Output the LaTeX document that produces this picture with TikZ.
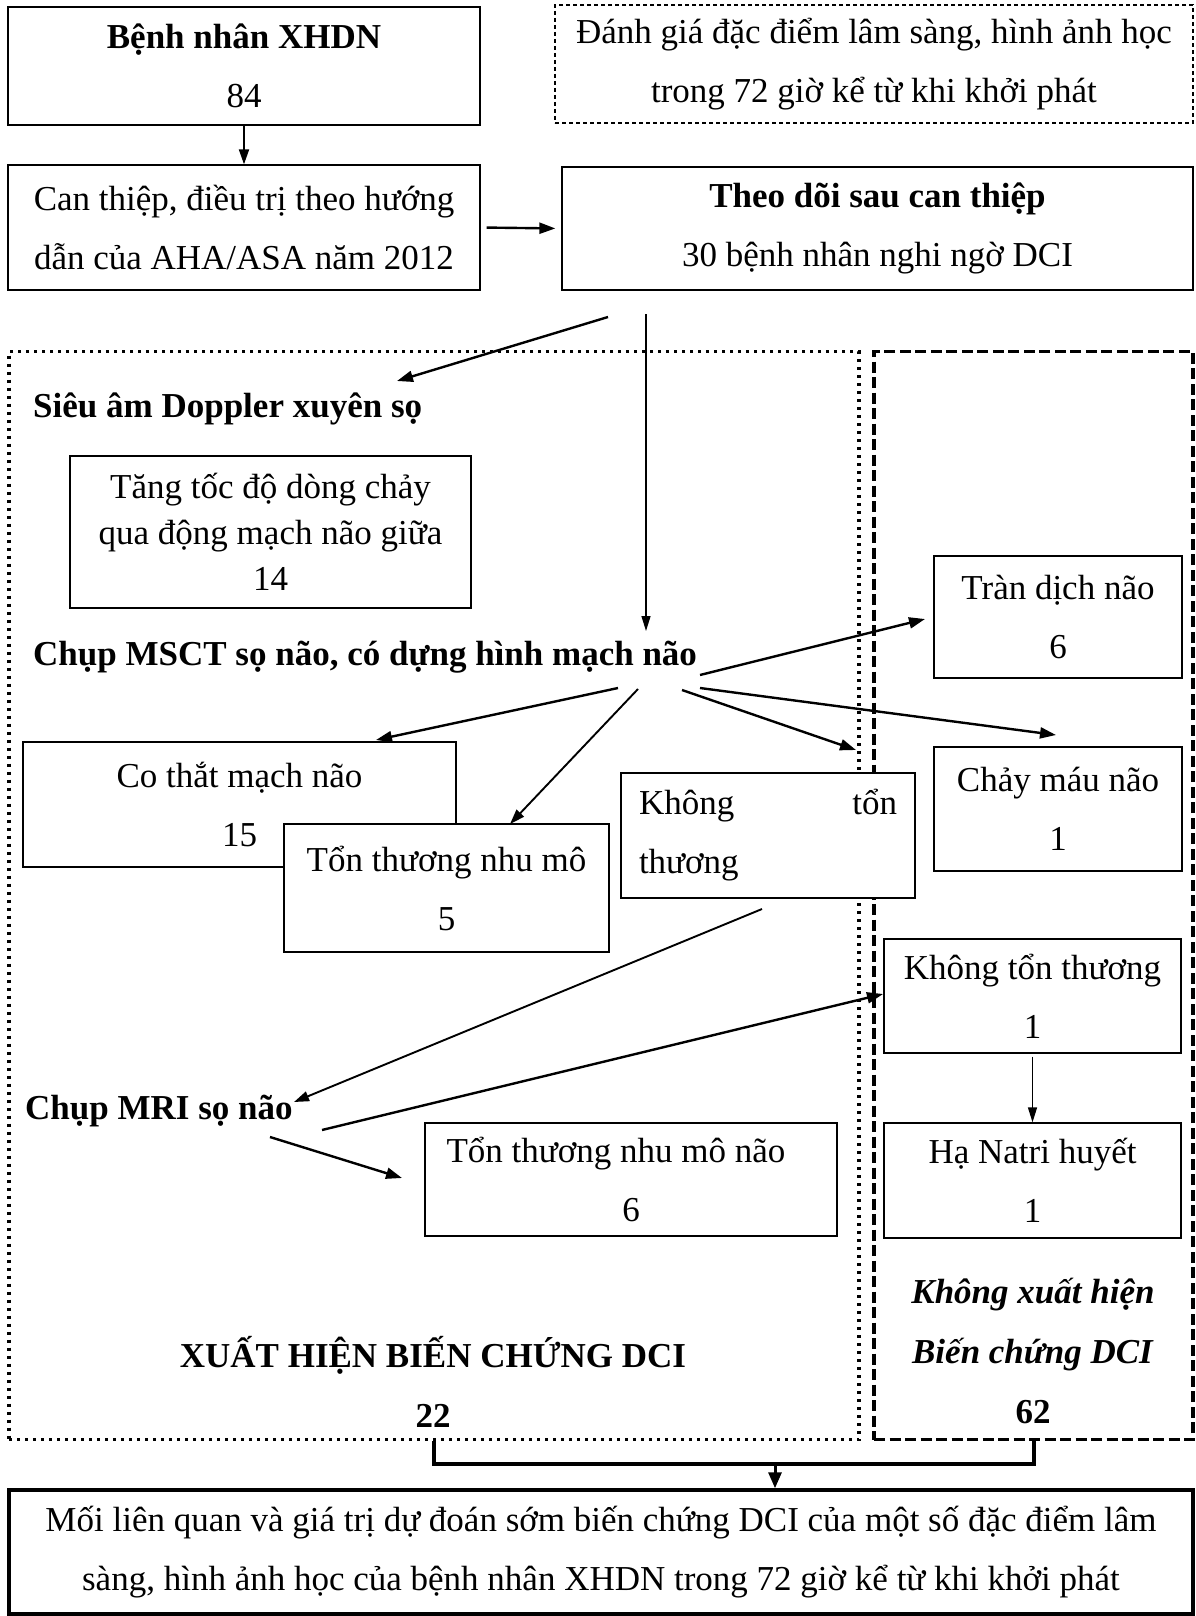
\documentclass[tikz,border=0pt]{standalone}
\usepackage{fontspec}
\setmainfont{Liberation Serif}
\usetikzlibrary{arrows.meta,calc}
\begin{document}
\begin{tikzpicture}[x=1pt,y=-1pt,
  bx/.style={draw,line width=1.3pt,fill=white,align=center,inner sep=0pt,font=\fontsize{35}{59}\selectfont},
  lbl/.style={anchor=west,inner sep=0pt,font=\fontsize{35}{40}\selectfont\bfseries},
  plain/.style={align=center,inner sep=0pt,font=\fontsize{35}{60}\selectfont\bfseries},
  big arrow/.style={line width=2.4pt,-{Triangle[length=16pt,width=11pt]}},
  mid arrow/.style={line width=1.9pt,-{Triangle[length=15pt,width=10pt]}},
  small arrow/.style={line width=1.4pt,-{Triangle[length=15pt,width=9pt]}},
  dotgrp/.style={draw,line width=3.2pt,dash pattern=on 3pt off 5pt,inner sep=0pt},
  dashgrp/.style={draw,line width=3.3pt,dash pattern=on 11pt off 4.5pt,inner sep=0pt},
]
\useasboundingbox (0,0) rectangle (1195,1616);

% group frames
\node[dotgrp,minimum width=850pt,minimum height=1088pt] (leftgrp) at (434,895.5) {};
\node[dashgrp,minimum width=319pt,minimum height=1088pt] (rightgrp) at (1033.5,895.5) {};

% top boxes
\node[bx,minimum width=472pt,minimum height=118pt] (b1) at (244,66) {\textbf{Bệnh nhân XHDN}\\84};
\node[bx,dash pattern=on 4pt off 3pt,minimum width=638pt,minimum height=118pt] (eval) at (874,64) {Đánh giá đặc điểm lâm sàng, hình ảnh học\\trong 72 giờ kể từ khi khởi phát};
\node[bx,minimum width=472pt,minimum height=125pt] (b2) at (244,227.5) {Can thiệp, điều trị theo hướng\\dẫn của AHA/ASA năm 2012};
\node[bx,minimum width=631pt,minimum height=123pt] (b3) at (877.5,228.5) {\textbf{Theo dõi sau can thiệp}\\30 bệnh nhân nghi ngờ DCI};

% labels
\node[lbl] (sieu) at (33,409) {Siêu âm Doppler xuyên sọ};
\node[bx,font=\fontsize{35}{46}\selectfont,minimum width=401pt,minimum height=152pt] (tang) at (270.5,532) {Tăng tốc độ dòng chảy\\qua động mạch não giữa\\14};
\node[lbl] (msct) at (33,657) {Chụp MSCT sọ não, có dựng hình mạch não};

% MSCT results
\node[bx,minimum width=248pt,minimum height=122pt] (tran) at (1058,617) {Tràn dịch não\\6};
\node[bx,minimum width=248pt,minimum height=124pt] (chay) at (1058,809) {Chảy máu não\\1};
\node[bx,minimum width=433pt,minimum height=125pt] (cothat) at (239.5,804.5) {Co thắt mạch não\\15};
\node[bx,minimum width=325pt,minimum height=128pt] (tonthuong) at (446.5,888) {Tổn thương nhu mô\\5};
\node[bx,minimum width=294pt,minimum height=125pt] (khong1) at (768,835.5) {\parbox{258pt}{\fontsize{35}{59}\selectfont Không\hfill tổn\\thương}};

% MRI
\node[lbl] (mri) at (25,1111) {Chụp MRI sọ não};
\node[bx,minimum width=412pt,minimum height=113pt] (tonnao) at (631,1179.5) {Tổn thương nhu mô não\hspace*{30pt}\\6};
\node[bx,minimum width=297pt,minimum height=114pt] (khong2) at (1032.5,996) {Không tổn thương\\1};
\node[bx,minimum width=297pt,minimum height=115pt] (hana) at (1032.5,1180.5) {Hạ Natri huyết\\1};

% group captions
\node[plain] (xuat) at (433,1381.5) {XUẤT HIỆN BIẾN CHỨNG DCI\\22};
\node[plain] (khongxh) at (1033,1351) {\textit{Không xuất hiện}\\\textit{Biến chứng DCI}\\62};

% bottom box
\node[bx,line width=3.5pt,minimum width=1184pt,minimum height=124pt] (bottom) at (601,1552) {Mối liên quan và giá trị dự đoán sớm biến chứng DCI của một số đặc điểm lâm\\sàng, hình ảnh học của bệnh nhân XHDN trong 72 giờ kể từ khi khởi phát};

% free connector ends
\coordinate (s1) at (608,317);
\coordinate (e1) at (397,381);
\coordinate (s2) at (646,314);
\coordinate (e2) at (646,631);
\coordinate (m1) at (700,675);
\coordinate (m2) at (700,688);
\coordinate (m3) at (682,690);
\coordinate (m4) at (618,688);
\coordinate (m5) at (638,689);
\coordinate (e3) at (925,619);
\coordinate (e4) at (1056,735);
\coordinate (e5) at (856,750);
\coordinate (e6) at (376,740);
\coordinate (e7) at (510,824);
\coordinate (k1) at (762,909);
\coordinate (r1) at (294,1102);
\coordinate (r2) at (322,1130);
\coordinate (r3) at (270,1137);
\coordinate (e8) at (883,994);
\coordinate (e9) at (402,1178);
\coordinate (junc) at (775,1464);

% connectors
\draw[mid arrow] (b1.south) -- (b2.north);
\draw[big arrow,shorten <=6pt,shorten >=6pt] (b2.east) -- (b3.west);
\draw[big arrow] (s1) -- (e1);
\draw[small arrow] (s2) -- (e2);
\draw[big arrow] (m1) -- (e3);
\draw[big arrow] (m2) -- (e4);
\draw[big arrow] (m3) -- (e5);
\draw[big arrow] (m4) -- (e6);
\draw[mid arrow] (m5) -- (e7);
\draw[mid arrow] (k1) -- (r1);
\draw[big arrow] (r2) -- (e8);
\draw[big arrow] (r3) -- (e9);
\draw[small arrow,shorten <=3pt] (khong2.south) -- (hana.north);
\draw[line width=4pt] (leftgrp.south) -- (leftgrp.south |- junc) -- (rightgrp.south |- junc) -- (rightgrp.south);
\draw[line width=3pt,-{Triangle[length=16pt,width=13pt]}] (junc) -- (junc |- bottom.north);
\end{tikzpicture}
\end{document}
